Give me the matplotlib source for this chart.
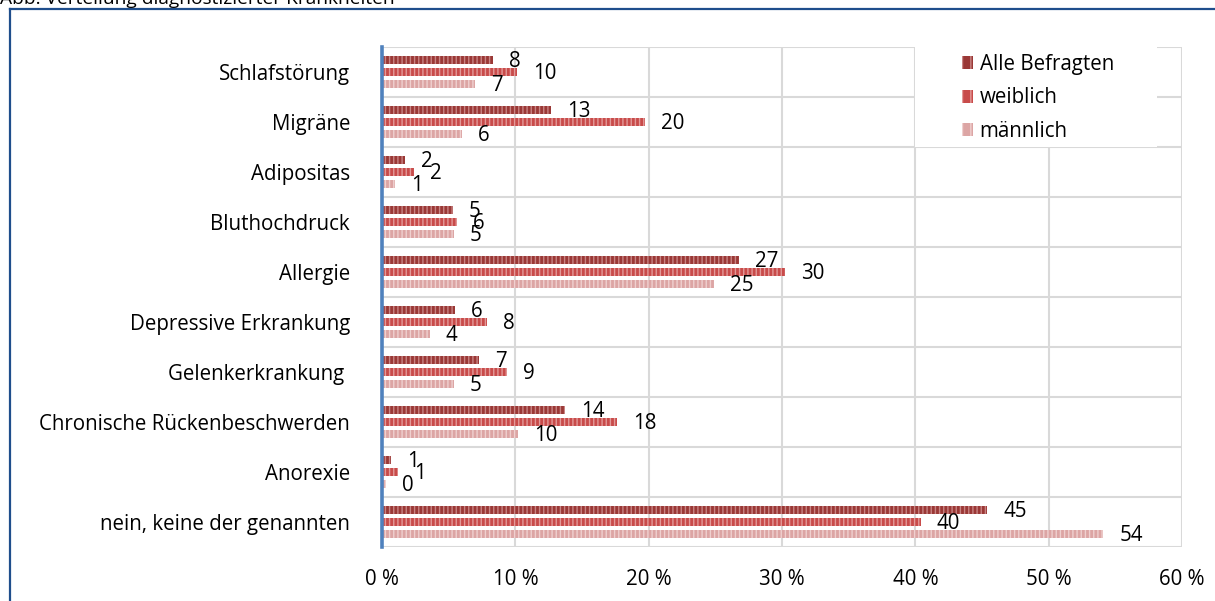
import matplotlib
matplotlib.use("Agg")
import matplotlib.pyplot as plt
from matplotlib.patches import Rectangle, Patch
from matplotlib.lines import Line2D
import numpy as np

# --- data -------------------------------------------------------------
categories = [
    "Schlafstörung",
    "Migräne",
    "Adipositas",
    "Bluthochdruck",
    "Allergie",
    "Depressive Erkrankung",
    "Gelenkerkrankung ",
    "Chronische Rückenbeschwerden",
    "Anorexie",
    "nein, keine der genannten",
]
series_names = ["Alle Befragten", "weiblich", "männlich"]
alle = [8.3, 12.7, 1.7, 5.3, 26.8, 5.5, 7.3, 13.7, 0.7, 45.4]
weiblich = [10.1, 19.7, 2.4, 5.6, 30.2, 7.9, 9.4, 17.6, 1.2, 40.4]
maennlich = [7.0, 6.0, 1.0, 5.4, 24.9, 3.6, 5.4, 10.2, 0.3, 54.1]
x_ticks = [0, 10, 20, 30, 40, 50, 60]
title = "Abb. Verteilung diagnostizierter Krankheiten"

# --- styling ----------------------------------------------------------
FONT = "Open Sans"
FS = 14.8
plt.rcParams["font.family"] = [FONT, "DejaVu Sans"]
plt.rcParams["hatch.linewidth"] = 1.0

face_colors = ["#9a3836", "#c84b4a", "#dca5a4"]
stripe_colors = ["#c98584", "#e39a99", "#efd0cf"]
grid_color = "#d9d9d9"

fig = plt.figure(figsize=(12.15, 6.01), dpi=100)
W, H = 1215, 601

# outer frame (top and left edges visible)
fig.add_artist(Line2D([9.5 / W, 9.5 / W], [0, 1 - 9 / H], transform=fig.transFigure,
                      color="#1f4e8c", lw=1.6))
fig.add_artist(Line2D([9.5 / W, 1], [1 - 9 / H, 1 - 9 / H], transform=fig.transFigure,
                      color="#1f4e8c", lw=1.6))
fig.text(0.0, 1 - 4 / H, title, fontsize=13.8, va="baseline", ha="left", color="#000000")

left, right, top, bottom = 382, 1182, 47, 547
ax = fig.add_axes([left / W, 1 - bottom / H, (right - left) / W, (bottom - top) / H])

n = len(categories)
y = np.arange(n)
bar_h = 0.17
offsets = [-0.24, 0.0, 0.24]
data = [alle, weiblich, maennlich]

for vals, off, fc, sc in zip(data, offsets, face_colors, stripe_colors):
    ax.barh(y + off, vals, height=bar_h, color=fc, edgecolor=sc, linewidth=0,
            hatch="||||", zorder=3)
    for yi, v in zip(y, vals):
        ax.text(v + 1.2, yi + off + 0.03, f"{v:.0f}", va="center", ha="left",
                fontsize=FS, color="#000000", zorder=7)

ax.set_xlim(0, 60)
ax.set_ylim(n - 0.5, -0.5)
ax.set_xticks(x_ticks)
ax.set_xticklabels([f"{t} %" for t in x_ticks], fontsize=FS)
ax.set_yticks(y)
ax.set_yticklabels(categories, fontsize=FS)
ax.tick_params(axis="both", length=0)
ax.tick_params(axis="y", pad=23)
ax.tick_params(axis="x", pad=16)

# grid: vertical at ticks, horizontal at category boundaries
for t in x_ticks[1:]:
    ax.axvline(t, color=grid_color, lw=1.5, zorder=1)
for b in np.arange(-0.5, n + 0.5, 1.0):
    ax.axhline(b, color=grid_color, lw=1.5, zorder=1)
for s in ax.spines.values():
    s.set_visible(False)
ax.axvline(0, color="#4f81bd", lw=2.6, zorder=4, clip_on=False)

# legend block: white panel in the top-right corner of the plot area
px = (right - left) / 60.0
ax.add_patch(Rectangle((40, -0.5), (1157 - 915) / px, 2.0, facecolor="white",
                       edgecolor="none", zorder=5))
handles = [Patch(facecolor=fc, edgecolor=sc, hatch="||", linewidth=0)
           for fc, sc in zip(face_colors, stripe_colors)]
leg = ax.legend(handles, series_names, loc="upper left",
                bbox_to_anchor=((956 - left) / (right - left), 1 - 1 / (bottom - top)),
                frameon=False, fontsize=FS,
                handlelength=0.55, handleheight=0.6, handletextpad=0.3,
                borderaxespad=0, labelspacing=0.6, borderpad=0.3)
leg.set_zorder(6)

fig.savefig("out.png", dpi=100, facecolor="white")
